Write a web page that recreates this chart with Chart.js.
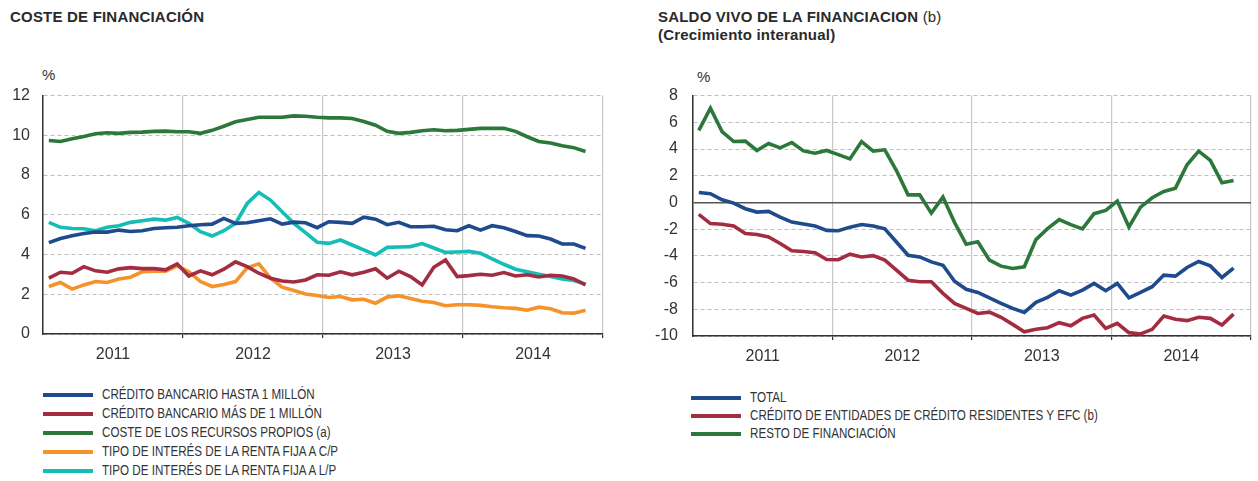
<!DOCTYPE html>
<html>
<head>
<meta charset="utf-8">
<script src="https://cdn.jsdelivr.net/npm/chart.js@4/dist/chart.umd.min.js"></script>
<style>
  body { margin:0; width:1258px; height:481px; background:#fff; font-family:"Liberation Sans", Arial, sans-serif; color:#222; position:relative; overflow:hidden; }
  .title { position:absolute; font-size:15px; font-weight:bold; line-height:18px; color:#2a2a2a; letter-spacing:0.2px; }
  .title span { font-weight:normal; }
  .pct { position:absolute; font-size:15px; color:#333; }
  .box { position:absolute; }
  .legend { position:absolute; font-size:14px; color:#333; }
  .legend div { height:19px; line-height:19px; position:relative; padding-left:59px; white-space:nowrap; }
  .legend i { position:absolute; left:0; top:8px; width:50px; height:4px; }
  .legend b { font-weight:normal; display:inline-block; transform:scaleX(0.83); transform-origin:left center; }
</style>
</head>
<body>
<div class="title" style="left:10px;top:8px">COSTE DE FINANCIACIÓN</div>
<div class="title" style="left:658px;top:8px">SALDO VIVO DE LA FINANCIACION <span>(b)</span><br>(Crecimiento interanual)</div>
<div class="pct" style="left:42px;top:66px">%</div>
<div class="pct" style="left:697px;top:68px">%</div>
<div class="box" style="left:0;top:73px;width:620px;height:297px"><canvas id="cLeft"></canvas></div>
<div class="box" style="left:650px;top:71px;width:608px;height:299px"><canvas id="cRight"></canvas></div>
<div class="legend" id="legLeft" style="left:43px;top:385px"></div>
<div class="legend" id="legRight" style="left:691px;top:388px"></div>
<script>
const C = { blue:'#1f4a8c', red:'#a32c40', green:'#2c773a', orange:'#f5922a', cyan:'#14bdb5', grid:'#bdbdbd', year:'#c8c8c8', axis:'#333', tick:'#333' };

const years = ['2011','2012','2013','2014'];
// monthly, Jan 2011 – Nov 2014
const hasta1M = [4.6,4.81,4.95,5.06,5.13,5.13,5.23,5.16,5.2,5.31,5.35,5.37,5.45,5.5,5.53,5.82,5.57,5.6,5.7,5.8,5.53,5.63,5.6,5.35,
  5.65,5.62,5.57,5.88,5.78,5.5,5.62,5.4,5.4,5.42,5.25,5.2,5.45,5.23,5.45,5.35,5.16,4.95,4.93,4.78,4.53,4.53,4.31];
const mas1M = [2.81,3.11,3.06,3.39,3.18,3.11,3.28,3.34,3.29,3.29,3.23,3.53,2.92,3.18,2.98,3.26,3.63,3.39,3.06,2.81,2.67,2.62,2.72,2.98,
  2.96,3.13,2.98,3.11,3.28,2.81,3.16,2.89,2.47,3.36,3.73,2.89,2.94,3.01,2.96,3.09,2.92,2.98,2.87,2.96,2.92,2.77,2.47];
const recPropios = [9.74,9.69,9.83,9.94,10.08,10.13,10.1,10.15,10.16,10.2,10.21,10.18,10.18,10.1,10.25,10.46,10.68,10.8,10.91,10.91,10.91,10.98,10.96,10.91,
  10.88,10.88,10.85,10.7,10.51,10.2,10.1,10.15,10.23,10.28,10.23,10.25,10.3,10.35,10.36,10.35,10.2,9.93,9.69,9.61,9.48,9.38,9.19];
const rentaCP = [2.39,2.59,2.26,2.47,2.64,2.59,2.77,2.86,3.13,3.16,3.16,3.43,3.13,2.64,2.39,2.49,2.64,3.33,3.53,2.81,2.36,2.19,2.01,1.94,
  1.84,1.89,1.72,1.75,1.55,1.86,1.92,1.79,1.65,1.59,1.42,1.47,1.47,1.44,1.37,1.32,1.29,1.2,1.35,1.27,1.07,1.05,1.19];
const rentaLP = [5.62,5.37,5.31,5.3,5.2,5.37,5.45,5.62,5.7,5.78,5.73,5.87,5.57,5.15,4.93,5.2,5.57,6.57,7.12,6.74,6.15,5.57,5.1,4.62,
  4.56,4.73,4.48,4.23,3.98,4.36,4.38,4.4,4.55,4.33,4.11,4.13,4.16,4.06,3.78,3.51,3.26,3.13,3.01,2.89,2.77,2.69,2.51];

const total = [0.75,0.65,0.2,-0.05,-0.47,-0.72,-0.67,-1.1,-1.47,-1.62,-1.77,-2.09,-2.12,-1.85,-1.65,-1.77,-1.97,-2.96,-3.95,-4.08,-4.45,-4.7,-5.9,
  -6.5,-6.74,-7.14,-7.56,-7.93,-8.23,-7.48,-7.11,-6.61,-6.94,-6.56,-6.06,-6.61,-6.06,-7.14,-6.74,-6.31,-5.44,-5.52,-4.87,-4.42,-4.75,-5.62,-4.92];
const creditoEC = [-0.89,-1.58,-1.63,-1.76,-2.33,-2.4,-2.58,-3.07,-3.62,-3.67,-3.77,-4.27,-4.29,-3.87,-4.08,-3.98,-4.32,-5.07,-5.82,-5.94,-5.94,-6.81,-7.56,
  -7.93,-8.31,-8.21,-8.6,-9.13,-9.68,-9.5,-9.38,-9.0,-9.23,-8.68,-8.43,-9.43,-9.06,-9.75,-9.85,-9.5,-8.5,-8.75,-8.85,-8.6,-8.68,-9.18,-8.36];
const resto = [5.39,7.05,5.31,4.56,4.59,3.89,4.41,4.09,4.49,3.86,3.69,3.89,3.58,3.26,4.56,3.84,3.94,2.39,0.57,0.57,-0.8,0.4,-1.5,
  -3.13,-2.95,-4.32,-4.77,-4.94,-4.82,-2.78,-1.96,-1.29,-1.66,-1.98,-0.84,-0.6,0.1,-1.84,-0.35,0.35,0.82,1.07,2.82,3.84,3.15,1.48,1.65];

const leftSeries = [
  { label:'CRÉDITO BANCARIO HASTA 1 MILLÓN', data:hasta1M, color:C.blue },
  { label:'CRÉDITO BANCARIO MÁS DE 1 MILLÓN', data:mas1M, color:C.red },
  { label:'COSTE DE LOS RECURSOS PROPIOS (a)', data:recPropios, color:C.green },
  { label:'TIPO DE INTERÉS DE LA RENTA FIJA A C/P', data:rentaCP, color:C.orange },
  { label:'TIPO DE INTERÉS DE LA RENTA FIJA A L/P', data:rentaLP, color:C.cyan },
];
const rightSeries = [
  { label:'TOTAL', data:total, color:C.blue },
  { label:'CRÉDITO DE ENTIDADES DE CRÉDITO RESIDENTES Y EFC (b)', data:creditoEC, color:C.red },
  { label:'RESTO DE FINANCIACIÓN', data:resto, color:C.green },
];

const font = { family:'"Liberation Sans", Arial, sans-serif', size:16 };

function makeChart(id, series, yMin, yMax, axisW, axisH, padTop, padRight, yPad, zeroLine) {
  const datasets = series.map((s, k) => ({
    label:s.label, data:s.data.map((v, i) => ({ x:i + 0.5, y:v })), borderColor:s.color,
    borderWidth:3.6, pointRadius:0, tension:0, fill:false, order:k
  }));
  const isZero = c => zeroLine && c.tick && c.tick.value === 0;
  return new Chart(document.getElementById(id), {
    type:'line',
    data:{ datasets },
    options:{
      responsive:true, maintainAspectRatio:false, animation:false,
      layout:{ padding:{ top:padTop, right:padRight, left:0, bottom:0 } },
      plugins:{ legend:{ display:false }, tooltip:{ enabled:false } },
      scales:{
        x:{
          type:'linear', min:0, max:48,
          afterBuildTicks:ax => { ax.ticks = [0,6,12,18,24,30,36,42,48].map(v => ({ value:v })); },
          afterFit:ax => { ax.height = axisH; },
          grid:{ color:c => c.tick && c.tick.value % 12 === 0 ? C.year : 'rgba(0,0,0,0)', lineWidth:1.2, drawTicks:true, tickLength:4,
                 tickColor:c => c.tick && c.tick.value % 12 === 0 && c.tick.value > 0 ? C.axis : 'rgba(0,0,0,0)' },
          border:{ display:true, color:C.axis, width:1.5 },
          ticks:{ autoSkip:false, maxRotation:0, padding:7, color:C.tick, font,
                  callback:v => v % 12 === 6 ? years[(v - 6) / 12] : '' }
        },
        y:{
          min:yMin, max:yMax,
          afterFit:ax => { ax.width = axisW; },
          grid:{ color:c => isZero(c) ? '#555' : C.grid, lineWidth:c => isZero(c) ? 1.5 : 1, drawTicks:false },
          border:{ display:true, color:C.axis, width:1.5, dash:c => isZero(c) ? [] : [4,3] },
          ticks:{ stepSize:2, padding:yPad, color:C.tick, font }
        }
      }
    }
  });
}

makeChart('cLeft', leftSeries, 0, 12, 43, 36, 9, 17, 13, false);
makeChart('cRight', rightSeries, -10, 8, 43, 34, 7, 1, 15, true);

function legend(id, series) {
  document.getElementById(id).innerHTML = series.map(s =>
    `<div><i style="background:${s.color}"></i><b>${s.label}</b></div>`).join('');
}
legend('legLeft', leftSeries);
legend('legRight', rightSeries);
document.querySelectorAll('#legRight div').forEach(d => { d.style.height = '18px'; d.style.lineHeight = '18px'; });
</script>
</body>
</html>
